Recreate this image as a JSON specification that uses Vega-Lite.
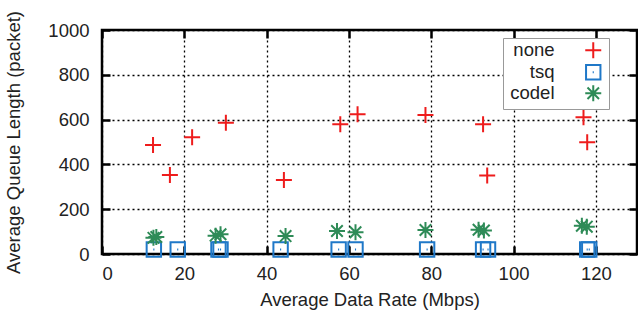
{
  "$schema": "https://vega.github.io/schema/vega-lite/v6.json",
  "autosize": "none",
  "width": 535,
  "height": 224,
  "padding": {"left": 102, "top": 30, "right": 1, "bottom": 66},
  "background": "white",
  "config": {
    "font": "Liberation Sans",
    "view": {"stroke": "black", "strokeWidth": 2.5},
    "axis": {
      "domain": false,
      "labelFont": "Liberation Sans",
      "titleFont": "Liberation Sans",
      "labelFontSize": 18.5,
      "titleFontSize": 18.5,
      "titleFontWeight": "normal",
      "labelColor": "#222222",
      "titleColor": "#222222",
      "tickColor": "black",
      "tickWidth": 2.5,
      "tickSize": -8,
      "gridColor": "black",
      "gridOpacity": 1,
      "gridDash": [2, 3],
      "gridWidth": 1.3
    },
    "legend": {
      "labelFont": "Liberation Sans",
      "labelFontSize": 18.5,
      "labelColor": "#222222"
    }
  },
  "data": {
    "values": [
      {"series": "none", "rate": 12.4, "qlen": 487},
      {"series": "none", "rate": 16.5, "qlen": 353},
      {"series": "none", "rate": 21.9, "qlen": 521},
      {"series": "none", "rate": 30.1, "qlen": 586},
      {"series": "none", "rate": 44.2, "qlen": 330},
      {"series": "none", "rate": 57.9, "qlen": 579},
      {"series": "none", "rate": 62.1, "qlen": 624},
      {"series": "none", "rate": 78.6, "qlen": 620},
      {"series": "none", "rate": 92.6, "qlen": 579},
      {"series": "none", "rate": 93.6, "qlen": 350},
      {"series": "none", "rate": 117.0, "qlen": 610},
      {"series": "none", "rate": 117.9, "qlen": 499},
      {"series": "tsq", "rate": 12.6, "qlen": 20},
      {"series": "tsq", "rate": 18.4, "qlen": 20},
      {"series": "tsq", "rate": 28.3, "qlen": 20},
      {"series": "tsq", "rate": 28.8, "qlen": 20},
      {"series": "tsq", "rate": 43.4, "qlen": 20},
      {"series": "tsq", "rate": 57.5, "qlen": 20},
      {"series": "tsq", "rate": 61.6, "qlen": 20},
      {"series": "tsq", "rate": 79.0, "qlen": 20},
      {"series": "tsq", "rate": 92.6, "qlen": 20},
      {"series": "tsq", "rate": 93.8, "qlen": 20},
      {"series": "tsq", "rate": 117.9, "qlen": 20},
      {"series": "tsq", "rate": 118.4, "qlen": 20},
      {"series": "codel", "rate": 12.5, "qlen": 72},
      {"series": "codel", "rate": 13.2, "qlen": 76},
      {"series": "codel", "rate": 27.6, "qlen": 82},
      {"series": "codel", "rate": 28.8, "qlen": 88},
      {"series": "codel", "rate": 44.6, "qlen": 80},
      {"series": "codel", "rate": 57.1, "qlen": 103},
      {"series": "codel", "rate": 61.6, "qlen": 97},
      {"series": "codel", "rate": 78.6, "qlen": 107},
      {"series": "codel", "rate": 91.5, "qlen": 108},
      {"series": "codel", "rate": 92.8, "qlen": 105},
      {"series": "codel", "rate": 116.6, "qlen": 126},
      {"series": "codel", "rate": 117.8, "qlen": 122}
    ]
  },
  "layer": [
    {
      "mark": {"type": "point", "filled": false, "strokeWidth": 2, "size": 256, "opacity": 1},
      "encoding": {
        "x": {
          "field": "rate", "type": "quantitative",
          "scale": {"domain": [0, 130], "nice": false, "zero": false},
          "axis": {"values": [0, 20, 40, 60, 80, 100, 120], "title": "Average Data Rate (Mbps)", "labelPadding": 18, "titlePadding": 8}
        },
        "y": {
          "field": "qlen", "type": "quantitative",
          "scale": {"domain": [0, 1000], "nice": false},
          "axis": {"values": [0, 200, 400, 600, 800, 1000], "format": "d", "title": "Average Queue Length (packet)", "labelPadding": 21, "titlePadding": 24}
        },
        "color": {
          "field": "series", "type": "nominal",
          "scale": {"domain": ["none", "tsq", "codel"], "range": ["#ee1c1c", "#1f78c8", "#2e8b57"]},
          "legend": {
            "title": null,
            "orient": "none",
            "legendX": 401,
            "legendY": 8,
            "strokeColor": "#999999",
            "fillColor": "white",
            "padding": 3,
            "symbolOffset": 78,
            "labelAlign": "right",
            "labelOffset": -48,
            "rowPadding": -3.5,
            "symbolStrokeWidth": 2,
            "symbolSize": 256,
            "cornerRadius": 0
          }
        },
        "shape": {
          "field": "series", "type": "nominal",
          "scale": {"domain": ["none", "tsq", "codel"], "range": [
            "M-1,0L1,0M0,-1L0,1",
            "M-0.9,-0.9L0.9,-0.9L0.9,0.9L-0.9,0.9ZM-0.07,0L0.07,0",
            "M-1,0L1,0M0,-1L0,1M-0.72,-0.72L0.72,0.72M-0.72,0.72L0.72,-0.72"
          ]}
        }
      }
    },
    {
      "mark": {"type": "point", "opacity": 0},
      "encoding": {
        "x": {
          "field": "rate", "type": "quantitative",
          "axis": {"orient": "top", "values": [0, 20, 40, 60, 80, 100, 120], "labels": false, "grid": false, "title": null}
        },
        "y": {
          "field": "qlen", "type": "quantitative",
          "axis": {"orient": "right", "values": [0, 200, 400, 600, 800, 1000], "labels": false, "grid": false, "title": null}
        }
      }
    }
  ],
  "resolve": {"axis": {"x": "independent", "y": "independent"}}
}
